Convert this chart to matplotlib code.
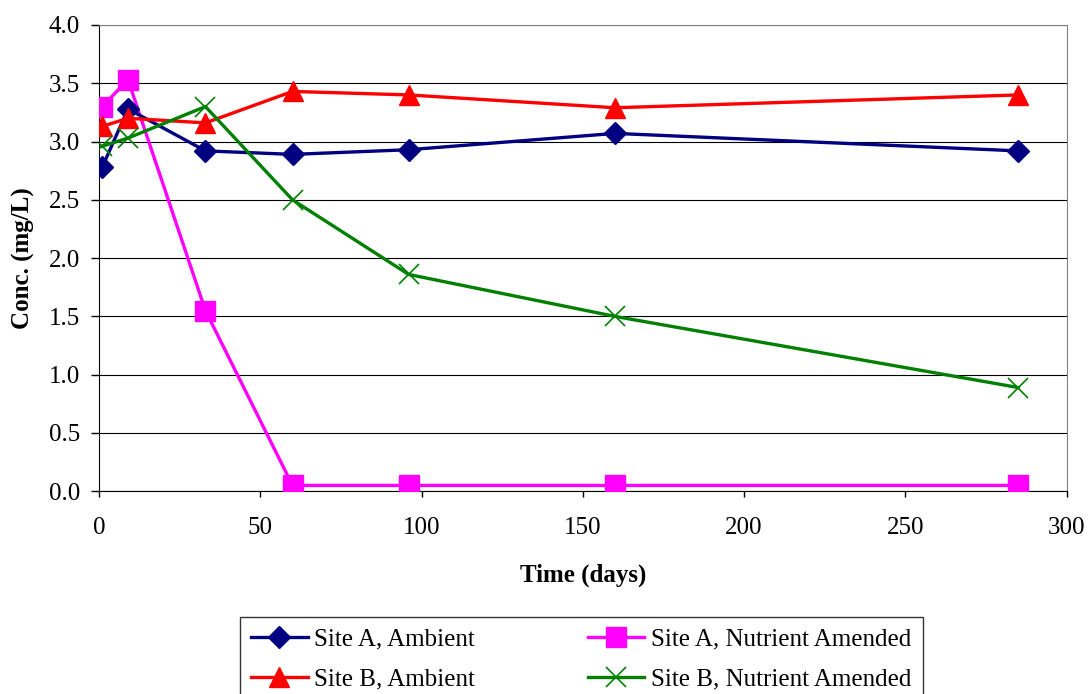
import matplotlib
matplotlib.use("Agg")
import matplotlib.pyplot as plt

plt.rcParams['font.family'] = ['Liberation Serif', 'DejaVu Serif']

days = [1, 9, 33, 60, 96, 160, 285]
site_a_ambient = [2.78, 3.28, 2.92, 2.89, 2.93, 3.07, 2.92]
site_a_amended = [3.30, 3.53, 1.55, 0.05, 0.05, 0.05, 0.05]
site_b_ambient = [3.13, 3.20, 3.16, 3.43, 3.40, 3.29, 3.40]
site_b_amended = [2.96, 3.03, 3.30, 2.50, 1.86, 1.50, 0.89]

fig = plt.figure(figsize=(10.89, 6.94), dpi=100)
ax = fig.add_axes([0.0909, 0.2921, 0.8886, 0.6719])

lw = 2.4
ax.plot(days, site_a_ambient, color='#000080', marker='D', markersize=11, lw=lw,
        label='Site A, Ambient', zorder=4)
ax.plot(days, site_a_amended, color='#FF00FF', marker='s', markersize=14, lw=lw,
        label='Site A, Nutrient Amended', zorder=3)
ax.plot(days, site_b_ambient, color='#FF0000', marker='^', markersize=14, lw=lw,
        label='Site B, Ambient', zorder=4)
ax.plot(days, site_b_amended, color='#008000', marker='x', markersize=14, lw=lw,
        markeredgewidth=1.2, label='Site B, Nutrient Amended', zorder=5)

ax.set_xlim(0, 300)
ax.set_ylim(0, 4.0)
ax.set_xticks(range(0, 301, 50))
ax.set_yticks([i * 0.5 for i in range(9)])
ax.set_yticklabels([f"{i * 0.5:.1f}" for i in range(9)])
ax.tick_params(axis='both', labelsize=18, direction='out', width=1)
ax.tick_params(axis='x', length=4.5, pad=14)
ax.tick_params(axis='y', length=6, pad=7.5)
ax.yaxis.grid(True, color='black', lw=0.8)
ax.set_axisbelow(True)

for side in ('top', 'right'):
    ax.spines[side].set_color('#808080')
for side in ('left', 'bottom'):
    ax.spines[side].set_color('black')

ax.set_xlabel('Time (days)', fontsize=18, fontweight='bold', labelpad=18)
ax.set_ylabel('Conc. (mg/L)', fontsize=18, fontweight='bold', labelpad=10)

handles, labels = ax.get_legend_handles_labels()
order = [0, 2, 1, 3]
leg = fig.legend([handles[i] for i in order], [labels[i] for i in order],
                 loc='upper left', bbox_to_anchor=(240 / 1089, 1 - 617 / 694),
                 ncol=2, fontsize=18, frameon=True, fancybox=False,
                 edgecolor='black', handlelength=2.25, columnspacing=4.5,
                 borderpad=0.45, labelspacing=0.7, handletextpad=0.28,
                 borderaxespad=0)
leg.get_frame().set_linewidth(1.0)

fig.savefig('out.png', dpi=100)
